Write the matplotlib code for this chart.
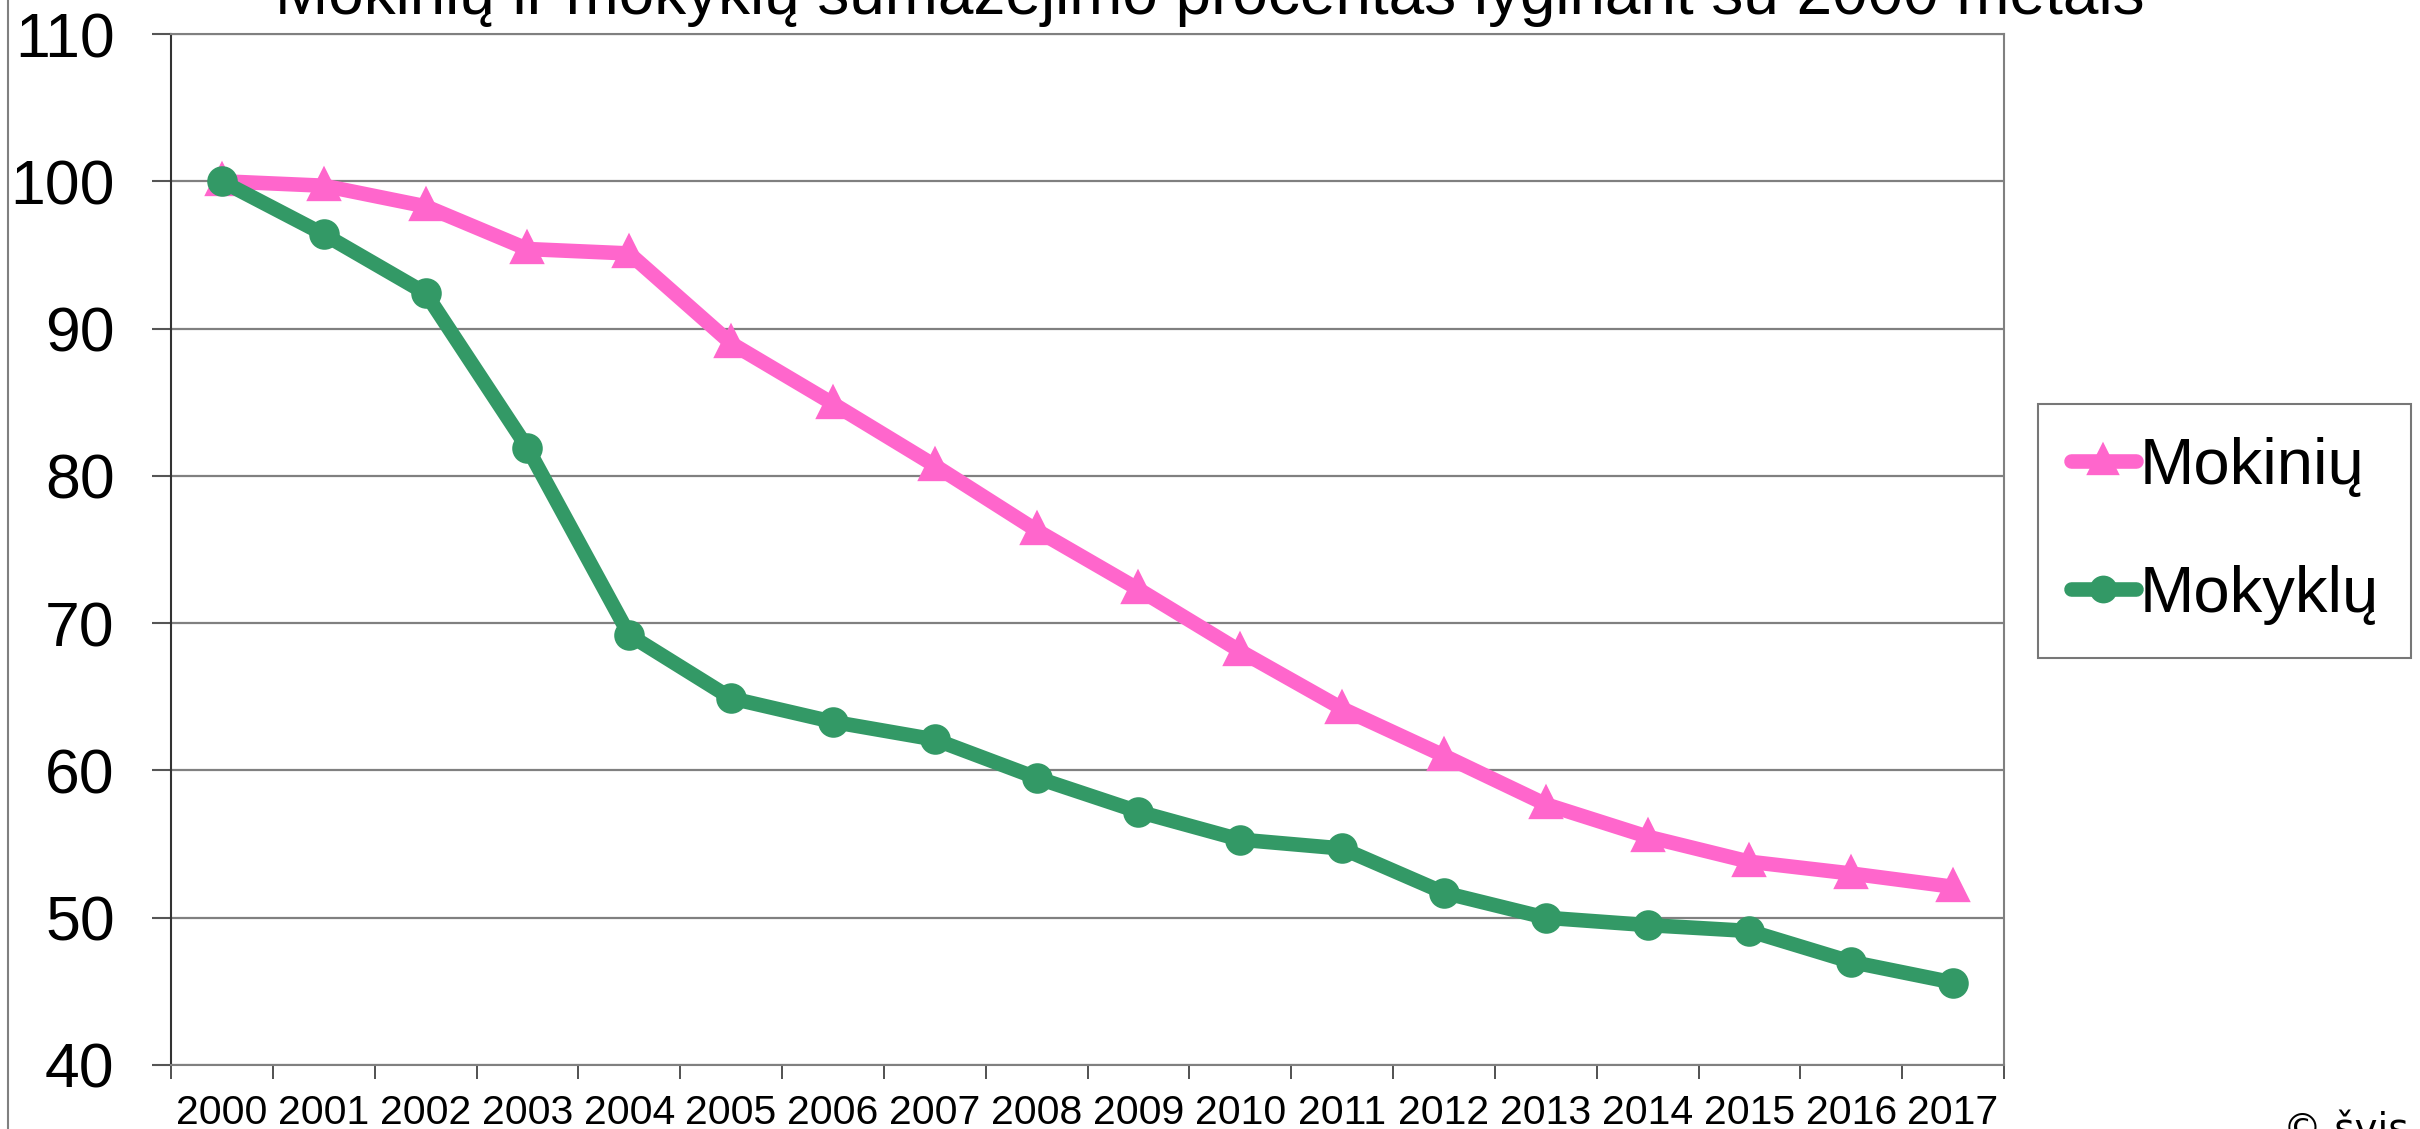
import matplotlib
matplotlib.use("Agg")
import matplotlib.pyplot as plt
from matplotlib.lines import Line2D

plt.rcParams['font.family'] = ['Liberation Sans', 'DejaVu Sans']

# data
years = [str(y) for y in range(2000, 2018)]
mokiniu = [100, 99.7, 98.3, 95.4, 95.1, 89.0, 84.9, 80.7, 76.3,
           72.3, 68.1, 64.2, 61.0, 57.7, 55.5, 53.8, 53.0, 52.1]
mokyklu = [100, 96.4, 92.4, 81.9, 69.2, 64.9, 63.3, 62.1, 59.5,
           57.2, 55.3, 54.7, 51.7, 50.0, 49.5, 49.1, 47.0, 45.6]
y_ticks = [40, 50, 60, 70, 80, 90, 100, 110]

title = "Mokinių ir mokyklų sumažėjimo procentas lyginant su 2000 metais"
pink = "#FF66CC"
green = "#339966"

W, H = 2420, 1129
fig = plt.figure(figsize=(W / 100, H / 100), dpi=100)
ax = fig.add_axes([171 / W, 1 - 1065 / H, (2004 - 171) / W, (1065 - 34) / H])

x = list(range(len(years)))
ax.plot(x, mokiniu, color=pink, lw=10.5, marker='^', ms=16, mew=6, mec=pink,
        solid_joinstyle='round', solid_capstyle='round', label='Mokinių', zorder=3)
ax.plot(x, mokyklu, color=green, lw=10.5, marker='o', ms=20, mew=2, mec=green,
        solid_joinstyle='round', solid_capstyle='round', label='Mokyklų', zorder=4)

ax.set_xlim(-0.5, len(years) - 0.5)
ax.set_ylim(40, 110)
ax.set_yticks(y_ticks)
ax.yaxis.grid(True, color='#808080', lw=1.6)
ax.set_axisbelow(True)

ax.set_xticks(x)
ax.set_xticklabels(years)
ax.set_xticks([i - 0.5 for i in range(len(years) + 1)], minor=True)
ax.tick_params(axis='x', which='major', length=0, pad=21, labelsize=29.5)
ax.tick_params(axis='x', which='minor', length=10, width=1.2, color='#333333',
               direction='out')
ax.tick_params(axis='y', length=13.5, width=1.5, color='#555555', pad=27,
               labelsize=45)

for side in ['top', 'right', 'bottom']:
    ax.spines[side].set_color('#808080')
    ax.spines[side].set_linewidth(1.5)
ax.spines['left'].set_color('#333333')
ax.spines['left'].set_linewidth(1.5)

leg = ax.legend(loc='upper left', bbox_to_anchor=(2038 / W, 1 - 404 / H),
                bbox_transform=fig.transFigure, fontsize=47, frameon=True,
                fancybox=False, edgecolor='#555555', borderpad=0.5,
                handlelength=1.0, handletextpad=0.05, labelspacing=1.05,
                borderaxespad=0, markerscale=0.9)
leg.get_frame().set_linewidth(1.5)

fig.text(0.5, 1 - 14 / H, title, ha='center', va='baseline', fontsize=46)
fig.text(2283 / W, 1 - 1141 / H, "© švis", ha='left', va='baseline',
         fontsize=28, family=['DejaVu Sans'])

# slide border line at the far left
fig.add_artist(Line2D([8 / W, 8 / W], [0, 1], transform=fig.transFigure,
                      color='#808080', lw=1.5))

fig.savefig("out.png", dpi=100)
